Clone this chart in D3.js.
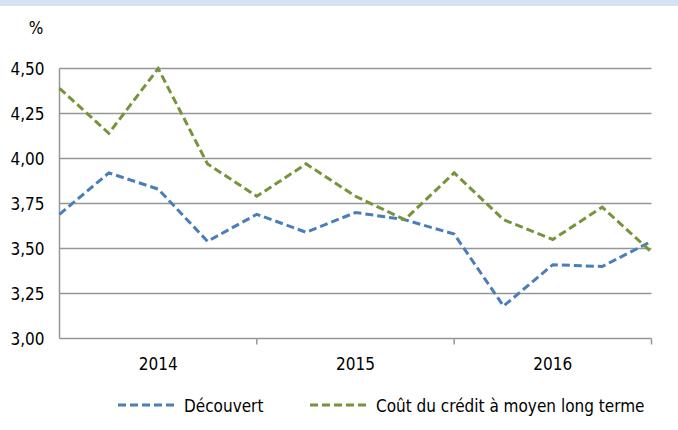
<!DOCTYPE html>
<html>
<head>
<meta charset="utf-8">
<script src="https://cdn.jsdelivr.net/npm/d3@7"></script>
<style>
  body { margin: 0; background: #fff; }
  svg text { font-family: "DejaVu Sans Condensed", "DejaVu Sans", Verdana, sans-serif; font-stretch: condensed; font-size: 17px; fill: #000; }
</style>
</head>
<body>
<svg id="chart" width="678" height="430"></svg>
<script>
// chart data
var years = ["2014", "2015", "2016"];
var quarters = ["2014T1", "2014T2", "2014T3", "2014T4", "2015T1", "2015T2", "2015T3", "2015T4",
  "2016T1", "2016T2", "2016T3", "2016T4", "2017T1"];
var decouvert = [3.69, 3.92, 3.83, 3.54, 3.69, 3.59, 3.70, 3.66, 3.58, 3.18, 3.41, 3.40, 3.54];
var coutCredit = [4.39, 4.14, 4.50, 3.97, 3.79, 3.97, 3.79, 3.66, 3.92, 3.66, 3.55, 3.73, 3.48];
var yTicks = [3.0, 3.25, 3.5, 3.75, 4.0, 4.25, 4.5];
var seriesNames = ["Découvert", "Coût du crédit à moyen long terme"];

var svg = d3.select("#chart");
var margin = { top: 68.5, left: 59.5, right: 26.5, bottom: 91.5 };
var width = 678 - margin.left - margin.right;
var height = 430 - margin.top - margin.bottom;

// light band at top
svg.append("rect").attr("x", 0).attr("y", 0).attr("width", 678).attr("height", 6).attr("fill", "#d5e2f4");

var g = svg.append("g").attr("transform", `translate(${margin.left},${margin.top})`);

var x = d3.scalePoint().domain(quarters).range([0, width]);
var xYear = d3.scaleBand().domain(years).range([0, width]);
var y = d3.scaleLinear().domain([3, 4.5]).range([height, 0]);

// gridlines
g.append("g")
  .selectAll("line")
  .data(yTicks.slice(1))
  .join("line")
  .attr("x1", 0)
  .attr("x2", width)
  .attr("y1", (d) => y(d))
  .attr("y2", (d) => y(d))
  .attr("stroke", "#969696")
  .attr("stroke-width", 1.5);

// y axis labels
var fmt = (d) => d3.format(".2f")(d).replace(".", ",");
g.append("g")
  .selectAll("text")
  .data(yTicks)
  .join("text")
  .attr("x", -15)
  .attr("y", (d) => y(d) + 6.5)
  .attr("text-anchor", "end")
  .text(fmt);

svg.append("text").attr("x", 36).attr("y", 34).attr("text-anchor", "middle").text("%");

// axes lines
g.append("line").attr("x1", 0).attr("x2", 0).attr("y1", 0).attr("y2", height)
  .attr("stroke", "#969696").attr("stroke-width", 1.5);
g.append("line").attr("x1", 0).attr("x2", width).attr("y1", height).attr("y2", height)
  .attr("stroke", "#969696").attr("stroke-width", 1.5);

// category ticks on x axis
g.append("g")
  .selectAll("line")
  .data(years)
  .join("line")
  .attr("x1", (d) => xYear(d) + xYear.bandwidth())
  .attr("x2", (d) => xYear(d) + xYear.bandwidth())
  .attr("y1", height)
  .attr("y2", height + 6)
  .attr("stroke", "#969696")
  .attr("stroke-width", 1.5);

g.append("g")
  .selectAll("text")
  .data(years)
  .join("text")
  .attr("x", (d) => xYear(d) + xYear.bandwidth() / 2)
  .attr("y", height + 31.5)
  .attr("text-anchor", "middle")
  .text((d) => d);

// series lines
var colors = ["#4a7ebb", "#77933c"];
var line = d3.line().x((d, i) => x(quarters[i])).y((d) => y(d));
[decouvert, coutCredit].forEach((s, k) => {
  g.append("path")
    .datum(s)
    .attr("d", line)
    .attr("fill", "none")
    .attr("stroke", colors[k])
    .attr("stroke-width", 3)
    .attr("stroke-dasharray", "8,4");
});

// legend
var legendX = [118, 310];
var legend = svg.append("g");
seriesNames.forEach((name, k) => {
  legend.append("line")
    .attr("x1", legendX[k]).attr("x2", legendX[k] + 60)
    .attr("y1", 405).attr("y2", 405)
    .attr("stroke", colors[k])
    .attr("stroke-width", 3)
    .attr("stroke-dasharray", "8,4");
  legend.append("text")
    .attr("x", legendX[k] + 66)
    .attr("y", 411.5)
    .text(name);
});
</script>
</body>
</html>
